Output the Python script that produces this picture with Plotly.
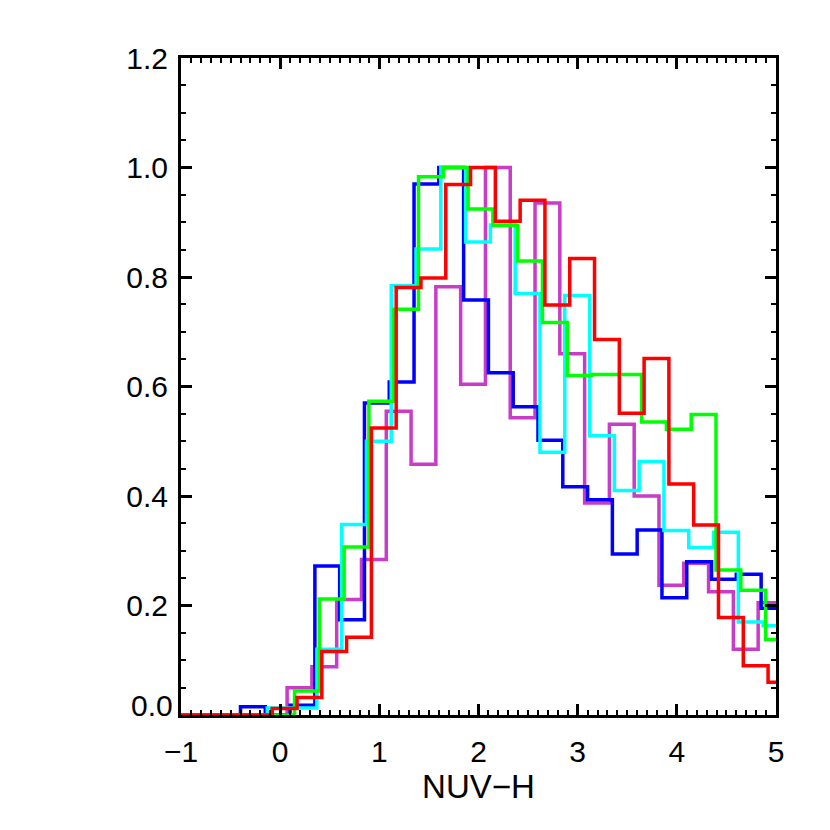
import plotly.graph_objects as go

# histogram bin width and left edge of the first bin of each curve
bin_width = 0.25

magenta_start = 0.07
magenta_vals = [0.05, 0.088, 0.211, 0.284, 0.555, 0.458, 0.782, 0.604, 1.0, 0.543,
                0.935, 0.66, 0.387, 0.531, 0.40, 0.237, 0.277, 0.225, 0.12, 0.205]

blue_start = -0.4
blue_vals = [0.015, 0.0, 0.018, 0.272, 0.174, 0.570, 0.608, 0.970, 1.0, 0.758, 0.625,
             0.563, 0.502, 0.417, 0.393, 0.294, 0.338, 0.214, 0.28, 0.248, 0.257, 0.195]

cyan_start = -0.13
cyan_vals = [0.013, 0.013, 0.12, 0.348, 0.50, 0.784, 0.851, 1.0, 0.864, 0.895, 0.77,
             0.48, 0.766, 0.51, 0.41, 0.463, 0.337, 0.306, 0.334, 0.17, 0.163]

green_start = -0.105
green_vals = [0.0, 0.044, 0.212, 0.307, 0.573, 0.741, 0.983, 1.0, 0.924, 0.894, 0.829,
              0.717, 0.62, 0.622, 0.622, 0.535, 0.522, 0.549, 0.265, 0.228, 0.138]

red_start = -0.08
red_vals = [0.012, 0.032, 0.116, 0.142, 0.524, 0.781, 0.798, 0.969, 1.0, 0.902, 0.94,
            0.749, 0.834, 0.686, 0.551, 0.651, 0.422, 0.347, 0.178, 0.09, 0.06]

x_ticks = [-1, 0, 1, 2, 3, 4, 5]
y_ticks = [0.0, 0.2, 0.4, 0.6, 0.8, 1.0, 1.2]
y_ticktext = ['', '0.2', '0.4', '0.6', '0.8', '1.0', '1.2']  # 0.0 is drawn a bit higher, as an annotation


def step_xy(start, vals):
    # left edges of every bin, plus the closing right edge
    xs = [-1.0]
    ys = [0.0]
    for i, v in enumerate(vals):
        xs.append(start + i * bin_width)
        ys.append(v)
    xs.append(start + len(vals) * bin_width)
    ys.append(vals[-1])
    return xs, ys


series = [
    (magenta_start, magenta_vals, 'rgb(200,60,200)'),
    (blue_start, blue_vals, 'rgb(0,0,255)'),
    (cyan_start, cyan_vals, 'rgb(0,255,255)'),
    (green_start, green_vals, 'rgb(0,255,0)'),
    (red_start, red_vals, 'rgb(255,0,0)'),
]

fig = go.Figure()
for start, vals, color in series:
    xs, ys = step_xy(start, vals)
    fig.add_trace(go.Scatter(
        x=xs, y=ys,
        mode='lines',
        line=dict(color=color, width=3.5, shape='hv'),
        showlegend=False,
        hoverinfo='skip'
    ))

font = dict(family="Liberation Sans, Arial, sans-serif", size=30, color='black')

fig.update_xaxes(
    range=[-1, 5],
    tickvals=x_ticks,
    ticks='inside', ticklen=11, tickwidth=3, tickcolor='black',
    minor=dict(dtick=0.1, ticks='inside', ticklen=5, tickwidth=2, tickcolor='black', showgrid=False),
    showline=True, linewidth=3, linecolor='black', mirror='allticks',
    showgrid=False, zeroline=False,
    tickfont=font,
    ticklabelstandoff=8,
    title=dict(text="NUV\u2212H", font=dict(family=font['family'], size=33, color='black'), standoff=0),
)

fig.update_yaxes(
    range=[0, 1.2],
    tickvals=y_ticks,
    ticktext=y_ticktext,
    ticks='inside', ticklen=11, tickwidth=3, tickcolor='black',
    minor=dict(dtick=0.05, ticks='inside', ticklen=5, tickwidth=2, tickcolor='black', showgrid=False),
    showline=True, linewidth=3, linecolor='black', mirror='allticks',
    showgrid=False, zeroline=False,
    tickfont=font,
    ticklabelstandoff=4,
)

fig.add_annotation(
    x=0, xref='paper', xanchor='right', xshift=-6,
    y=0, yref='y', yanchor='middle', yshift=10,
    text='0.0', showarrow=False, font=font,
)

# page body adds an 8px offset, so margins are trimmed to keep the plot box in place
fig.update_layout(
    width=830, height=830,
    margin=dict(l=173, r=62, t=50, b=123),
    paper_bgcolor='white', plot_bgcolor='white',
    font=font,
)

fig.write_html("out.html")
